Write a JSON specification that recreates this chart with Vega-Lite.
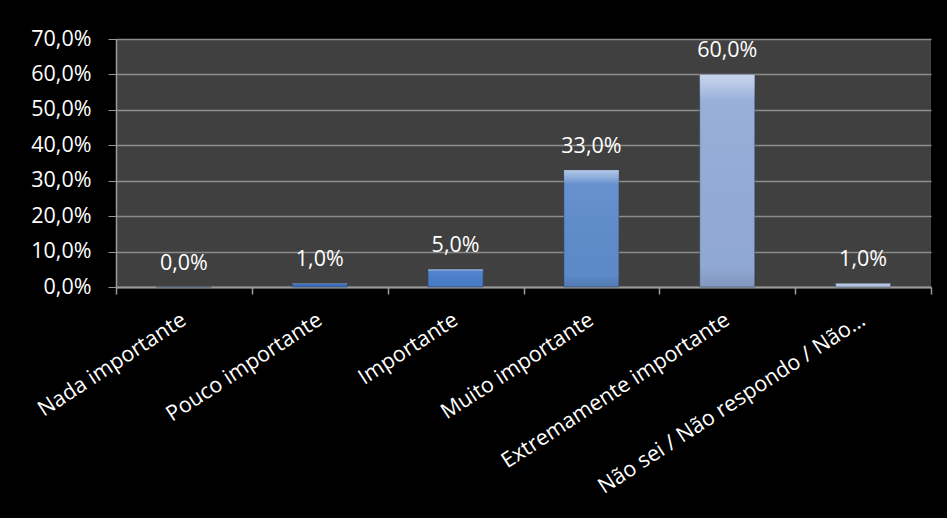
{
  "$schema": "https://vega.github.io/schema/vega-lite/v6.json",
  "autosize": {"type": "none"},
  "padding": {"left": 116, "top": 39, "right": 16, "bottom": 231},
  "width": 815,
  "height": 248,
  "background": "#000000",
  "config": {
    "locale": {"number": {"decimal": ",", "thousands": ".", "grouping": [3], "currency": ["", " €"]}},
    "view": {"fill": "#404040", "stroke": null},
    "font": "Open Sans"
  },
  "data": {
    "values": [
      {"categoria": "Nada importante", "valor": 0.0},
      {"categoria": "Pouco importante", "valor": 0.01},
      {"categoria": "Importante", "valor": 0.05},
      {"categoria": "Muito importante", "valor": 0.33},
      {"categoria": "Extremamente importante", "valor": 0.60},
      {"categoria": "Não sei / Não respondo / Não…", "valor": 0.01}
    ]
  },
  "encoding": {
    "x": {
      "field": "categoria",
      "type": "nominal",
      "sort": null,
      "scale": {"paddingInner": 0, "paddingOuter": 0},
      "axis": {
        "title": null,
        "tickBand": "extent",
        "domainColor": "#9a9a9a",
        "domainWidth": 2,
        "tickColor": "#9a9a9a",
        "tickWidth": 1.5,
        "tickSize": 7,
        "labelColor": "#ffffff",
        "labelFont": "Open Sans",
        "labelFontSize": 21.5,
        "labelAngle": -33,
        "labelAlign": "right",
        "labelBaseline": "middle",
        "labelPadding": 24,
        "labelLimit": 400
      }
    },
    "y": {
      "field": "valor",
      "type": "quantitative",
      "scale": {"domain": [0, 0.7], "nice": false},
      "axis": {
        "title": null,
        "format": ".1%",
        "values": [0, 0.1, 0.2, 0.3, 0.4, 0.5, 0.6, 0.7],
        "grid": true,
        "gridColor": "#8c8c8c",
        "gridWidth": 1.5,
        "domainColor": "#9a9a9a",
        "domainWidth": 1.5,
        "tickColor": "#9a9a9a",
        "tickSize": 8,
        "labelColor": "#ffffff",
        "labelFont": "Open Sans",
        "labelFontSize": 21.5,
        "labelPadding": 17
      }
    }
  },
  "layer": [
    {
      "mark": {"type": "bar", "width": {"band": 0.405}, "stroke": "#2b3f5e", "strokeWidth": 0.8, "strokeOpacity": 0.6},
      "encoding": {
        "color": {
          "field": "categoria",
          "type": "nominal",
          "sort": null,
          "legend": null,
          "scale": {
            "domain": ["Nada importante", "Pouco importante", "Importante", "Muito importante", "Extremamente importante", "Não sei / Não respondo / Não…"],
            "range": ["#2f5fa8", "#3a6fbf", "#4a7ecb", "#5f8ccc", "#93acd8", "#b6c6e6"]
          }
        }
      }
    },
    {
      "mark": {
        "type": "bar",
        "width": {"band": 0.405},
        "color": {
          "gradient": "linear",
          "x1": 0, "y1": 0, "x2": 0, "y2": 1,
          "stops": [
            {"offset": 0, "color": "rgba(255,255,255,0.5)"},
            {"offset": 0.06, "color": "rgba(255,255,255,0.3)"},
            {"offset": 0.12, "color": "rgba(255,255,255,0.05)"},
            {"offset": 0.9, "color": "rgba(0,0,0,0.02)"},
            {"offset": 1, "color": "rgba(0,0,0,0.12)"}
          ]
        }
      },
      "encoding": {}
    },
    {
      "mark": {"type": "text", "color": "#ffffff", "font": "Open Sans", "fontSize": 21.5, "baseline": "alphabetic", "dy": -17},
      "encoding": {
        "text": {"field": "valor", "type": "quantitative", "format": ".1%"}
      }
    }
  ]
}
